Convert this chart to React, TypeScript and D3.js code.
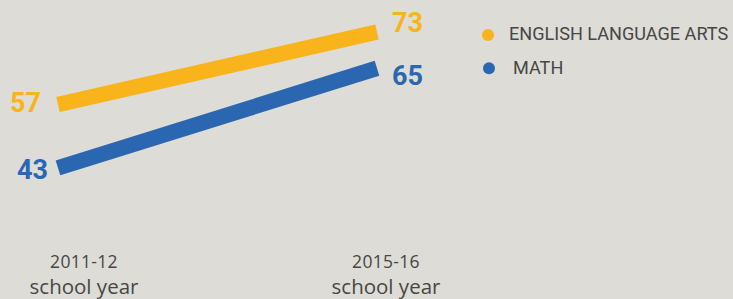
import React from "react";
import * as d3 from "d3";

const categories = ["2011-12", "2015-16"];
const subLabels = ["school year", "school year"];
const seriesNames = ["ENGLISH LANGUAGE ARTS", "MATH"];
const elaValues = [57, 73];
const mathValues = [43, 65];

const W = 733;
const H = 299;
const BG = "#dddcd7";
const COLORS = ["#f9b41b", "#2b67b1"];
const TEXT = "#474745";

export default function App() {
  const x = d3.scalePoint<string>().domain(categories).range([58, 377]);
  const y = d3.scaleLinear().domain([0, 100]).range([362.7, -90.3]);
  const line = d3
    .line<number>()
    .x((_, i) => x(categories[i]) as number)
    .y((d) => y(d));
  const series = [elaValues, mathValues];
  const leftLabelRight = [41, 48];
  const leftDy = [8, 11];
  const rightDy = [0, 17];
  const labelCenters = [84, 386];

  return (
    <svg
      width={W}
      height={H}
      style={{ position: "absolute", left: 0, top: 0 }}
      fontFamily="'Open Sans', sans-serif"
    >
      <rect width={W} height={H} fill={BG} />
      {series.map((vals, s) => (
        <g key={s}>
          <path
            d={line(vals) || ""}
            stroke={COLORS[s]}
            strokeWidth={15.5}
            fill="none"
            strokeLinecap="butt"
          />
          <text
            x={leftLabelRight[s]}
            y={y(vals[0]) + leftDy[s]}
            textAnchor="end"
            fontWeight={700}
            fontSize={27}
            fontFamily="Roboto, sans-serif"
            fill={COLORS[s]}
          >
            {vals[0]}
          </text>
          <text
            x={(x(categories[1]) as number) + 15}
            y={y(vals[1]) + rightDy[s]}
            textAnchor="start"
            fontWeight={700}
            fontSize={27}
            fontFamily="Roboto, sans-serif"
            fill={COLORS[s]}
          >
            {vals[1]}
          </text>
        </g>
      ))}
      {categories.map((c, i) => (
        <g key={c}>
          <text
            x={labelCenters[i]}
            y={267.5}
            textAnchor="middle"
            fontSize={17.5}
            letterSpacing={0.3}
            fill={TEXT}
          >
            {c}
          </text>
          <text x={labelCenters[i]} y={294.3} textAnchor="middle" fontSize={20.5} fill={TEXT}>
            {subLabels[i]}
          </text>
        </g>
      ))}
      {seriesNames.map((n, i) => (
        <g key={n}>
          <circle cx={488 + i} cy={35 + i * 33.3} r={6} fill={COLORS[i]} />
          <text
            x={509 + i * 4}
            y={40 + i * 34}
            fontSize={18.1}
            fontFamily="Roboto, sans-serif"
            fill={TEXT}
          >
            {n}
          </text>
        </g>
      ))}
    </svg>
  );
}
